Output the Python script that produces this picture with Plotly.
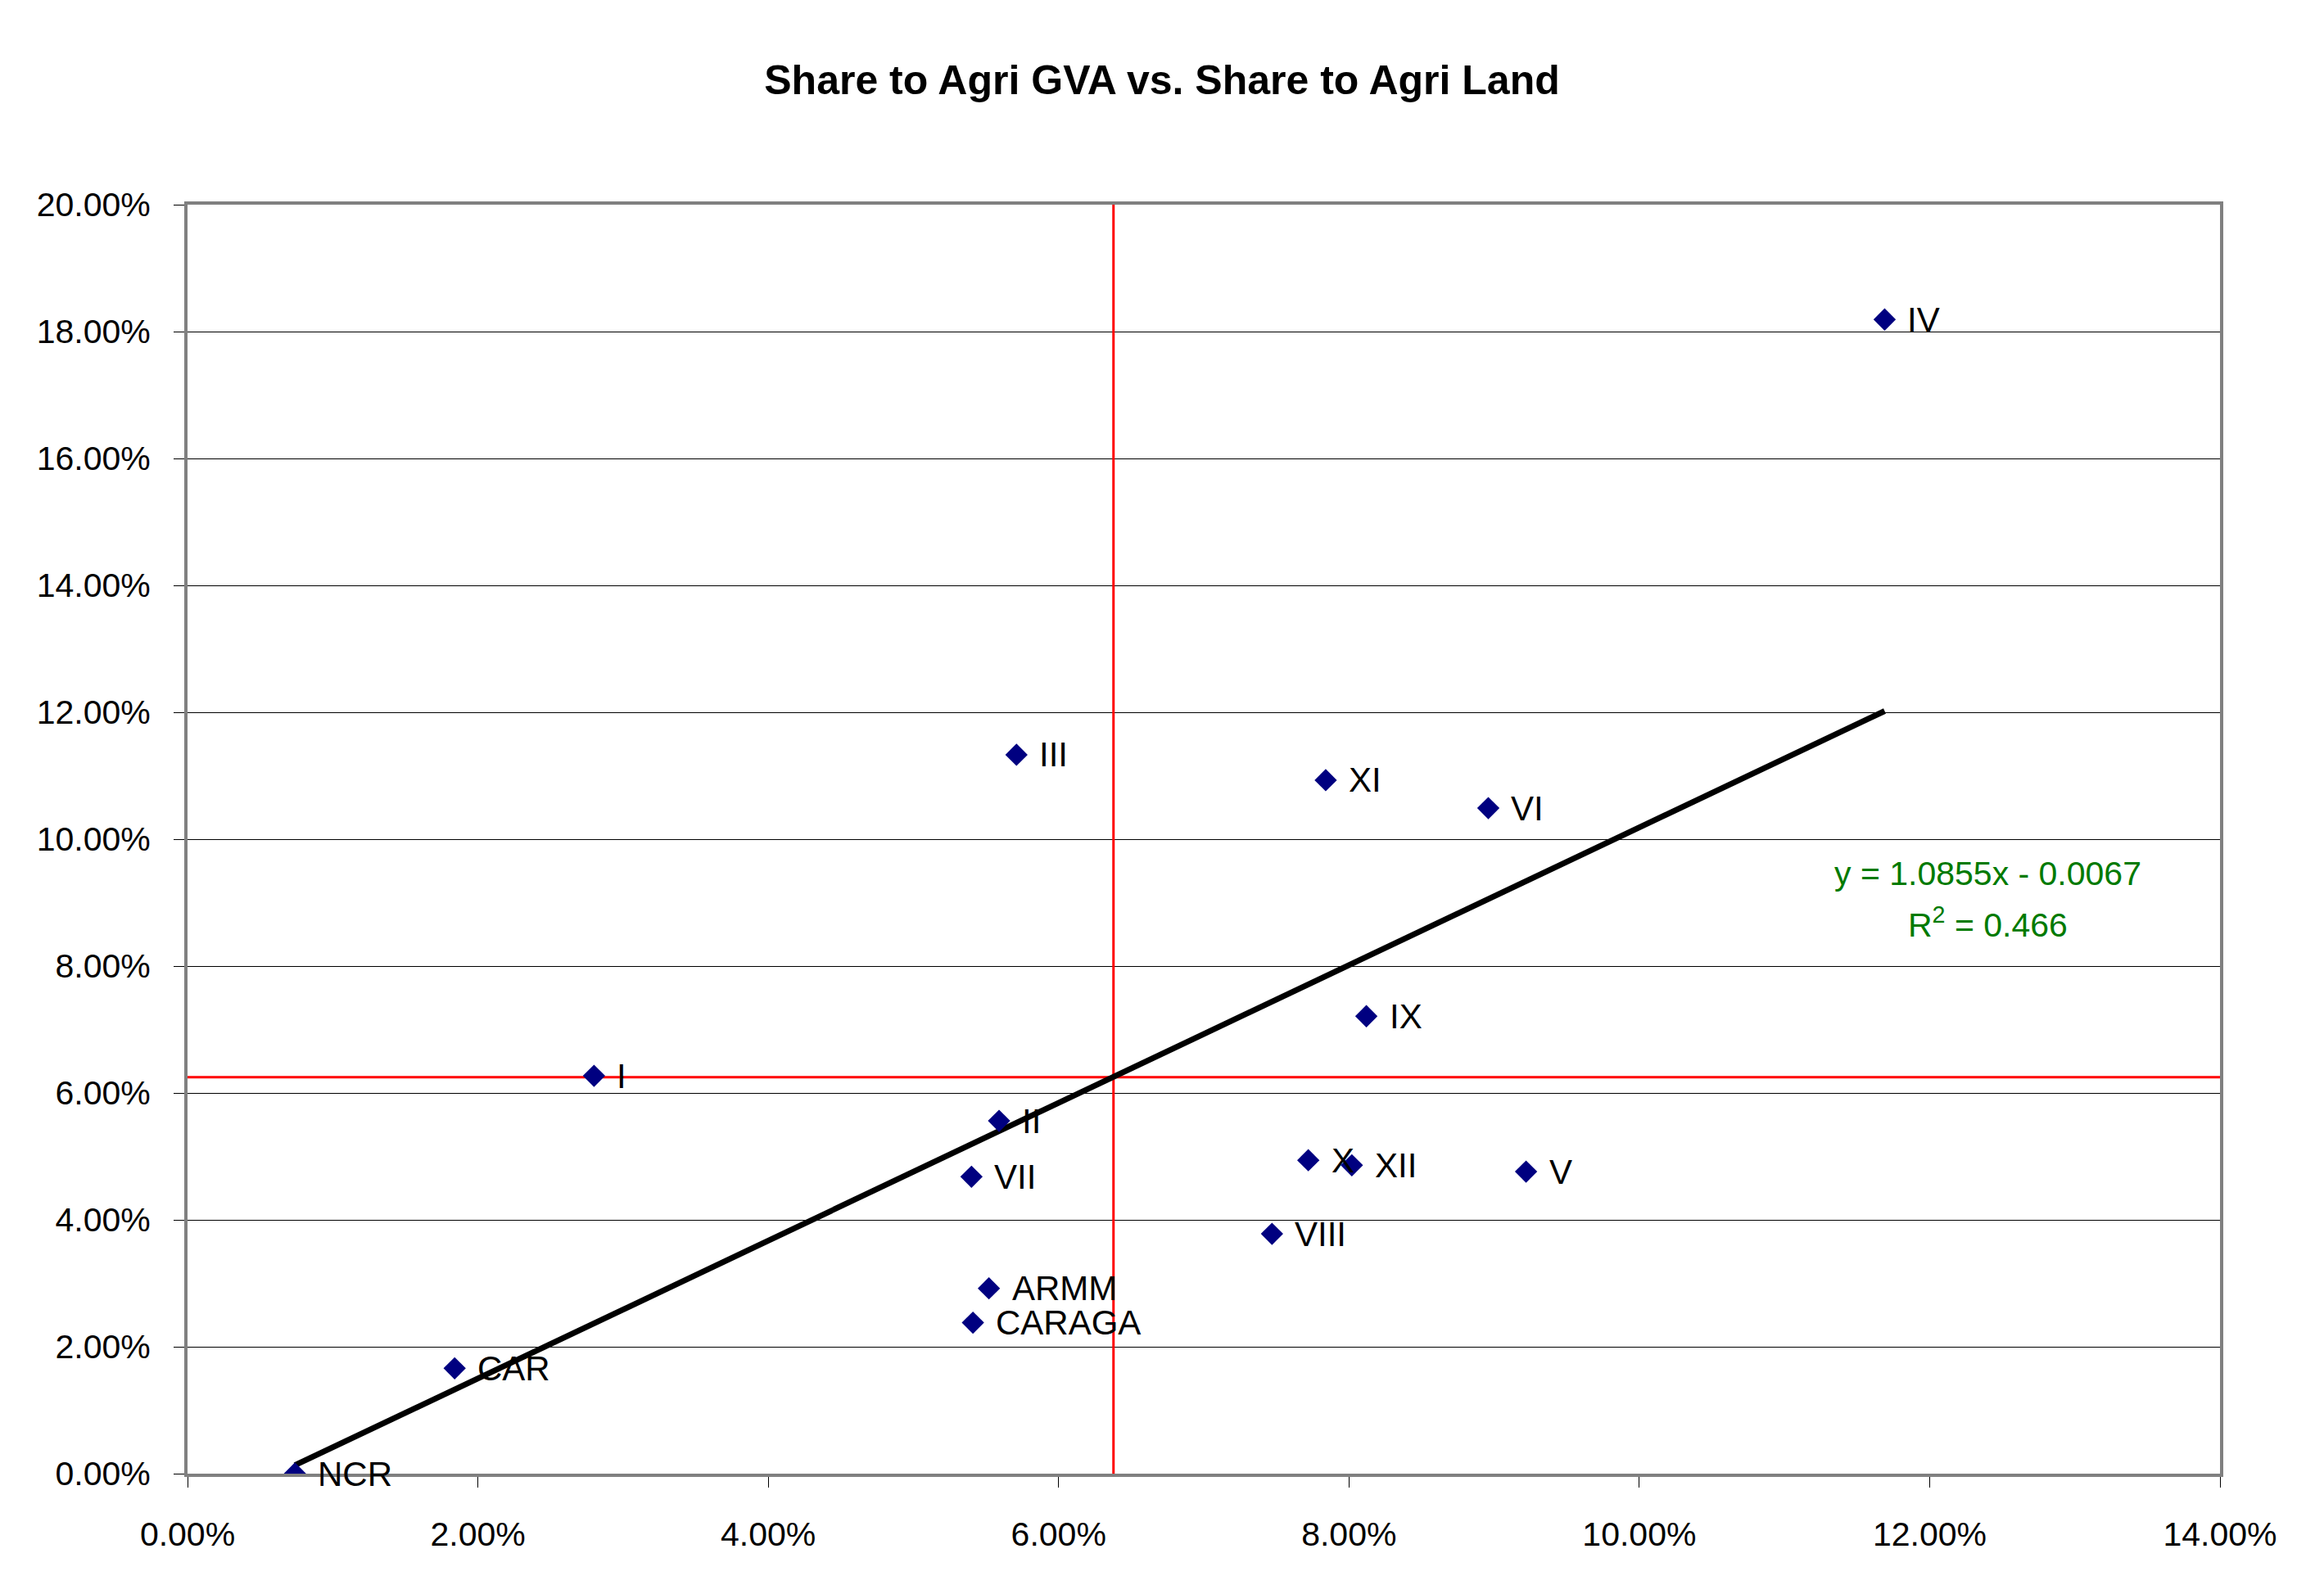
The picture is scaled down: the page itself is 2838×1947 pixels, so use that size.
import plotly.graph_objects as go
import numpy as np

# Data (shares as fractions)
regions = ["NCR", "CAR", "I", "II", "III", "IV", "V", "VI", "VII", "VIII",
           "IX", "X", "XI", "XII", "ARMM", "CARAGA"]
land_share = [0.0074, 0.0184, 0.0280, 0.0559, 0.0571, 0.1169, 0.0922, 0.0896, 0.0540, 0.0747,
              0.0812, 0.0772, 0.0784, 0.0802, 0.0552, 0.0541]
gva_share = [0.0000, 0.0166, 0.0627, 0.0556, 0.1133, 0.1819, 0.0476, 0.1049, 0.0468, 0.0378,
             0.0721, 0.0494, 0.1093, 0.0486, 0.0292, 0.0238]

slope = 1.0855
intercept = -0.0067
eq_text = "y = 1.0855x - 0.0067"
r2_text = "R<sup>2</sup> = 0.466"

x_ticks = [0, 0.02, 0.04, 0.06, 0.08, 0.10, 0.12, 0.14]
y_ticks = [0, 0.02, 0.04, 0.06, 0.08, 0.10, 0.12, 0.14, 0.16, 0.18, 0.20]

FONT = "Liberation Sans, Arial, sans-serif"

x_mean = float(np.mean(land_share))
y_mean = float(np.mean(gva_share))

fig = go.Figure()

# mean lines (red)
fig.add_trace(go.Scatter(x=[x_mean, x_mean], y=[0, 0.20], mode="lines",
                         line=dict(color="#FF0000", width=3), hoverinfo="skip"))
fig.add_trace(go.Scatter(x=[0, 0.14], y=[y_mean, y_mean], mode="lines",
                         line=dict(color="#FF0000", width=3), hoverinfo="skip"))

# trend line
xmin, xmax = min(land_share), max(land_share)
fig.add_trace(go.Scatter(x=[xmin, xmax], y=[slope * xmin + intercept, slope * xmax + intercept],
                         mode="lines", line=dict(color="#000000", width=7), hoverinfo="skip"))

# points
fig.add_trace(go.Scatter(x=land_share, y=gva_share, mode="markers",
                         marker=dict(symbol="diamond", size=21, color="#000080"),
                         hoverinfo="x+y"))

# labels
for xv, yv, lab in zip(land_share, gva_share, regions):
    fig.add_annotation(x=xv, y=yv, xref="x", yref="y", text=lab, showarrow=False,
                       xanchor="left", yanchor="middle", xshift=26,
                       font=dict(family=FONT, size=42, color="#000000"))

# equation
fig.add_annotation(x=0.124, y=0.0946, xref="x", yref="y", text=eq_text, showarrow=False,
                   xanchor="center", yanchor="middle",
                   font=dict(family=FONT, size=41, color="#007A00"))
fig.add_annotation(x=0.124, y=0.0869, xref="x", yref="y", text=r2_text, showarrow=False,
                   xanchor="center", yanchor="middle",
                   font=dict(family=FONT, size=41, color="#007A00"))

# page body has an 8px default margin: compensate in the figure margins
fig.update_layout(
    width=2838, height=1947,
    margin=dict(l=221, r=135, t=242, b=155),
    paper_bgcolor="white", plot_bgcolor="white",
    showlegend=False,
    title=dict(text="<b>Share to Agri GVA vs. Share to Agri Land</b>",
               x=0.5 - 8 / 2838, xref="container", xanchor="center",
               y=1 - 89 / 1947, yref="container", yanchor="middle",
               font=dict(family=FONT, size=50, color="#000000")),
    font=dict(family=FONT, size=41, color="#000000"),
)

fig.update_xaxes(range=[0, 0.14], tickvals=x_ticks, tickformat=".2%",
                 showgrid=False, zeroline=False,
                 showline=True, linecolor="#808080", linewidth=4, mirror=True,
                 ticks="outside", ticklen=13, tickcolor="#000000", tickwidth=1,
                 ticklabelstandoff=22,
                 tickfont=dict(family=FONT, size=41, color="#000000"))
fig.update_yaxes(range=[0, 0.20], tickvals=y_ticks, tickformat=".2%",
                 showgrid=True, gridcolor="#000000", gridwidth=1, zeroline=False,
                 showline=True, linecolor="#808080", linewidth=4, mirror=True,
                 ticks="outside", ticklen=13, tickcolor="#000000", tickwidth=1,
                 ticklabelstandoff=20,
                 tickfont=dict(family=FONT, size=41, color="#000000"))

fig.write_html("out.html")
